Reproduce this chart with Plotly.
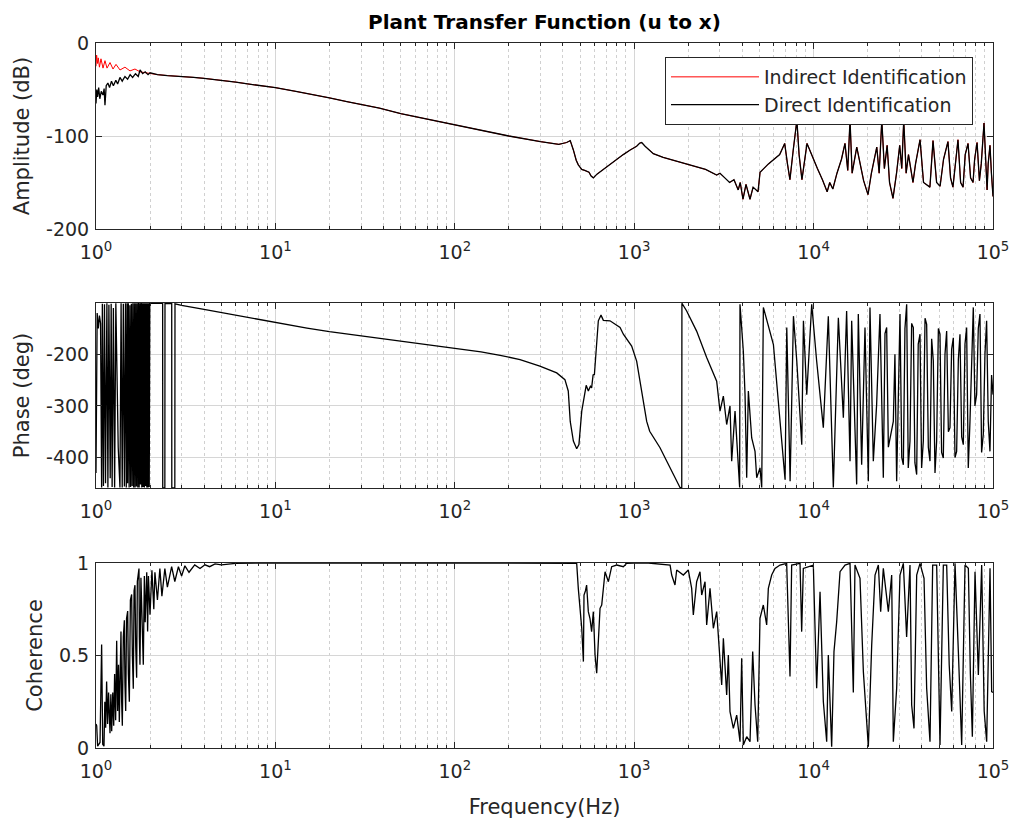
import plotly.graph_objects as go

# ---------------- data ----------------
amp_freq = [1.0, 1.01, 1.02, 1.035, 1.05, 1.07, 1.094, 1.11, 1.122, 1.14, 1.165, 1.19, 1.22, 1.25, 1.29,
            1.32, 1.36, 1.40, 1.45, 1.50, 1.55, 1.60, 1.66, 1.72, 1.76, 1.82, 1.88, 1.95, 2.0, 2.2,
            2.5, 2.8, 3.0, 3.5, 4, 5, 6, 7, 8, 10, 13, 16, 20, 25, 30, 38, 50, 70, 100, 140, 200,
            300, 380, 420, 440, 458, 475, 488, 510, 530, 543, 560, 575, 592, 620, 660, 703, 780,
            869, 950, 1032, 1075, 1101, 1150, 1278, 1450, 1653, 1900, 2229, 2500, 2882, 3007, 3200,
            3400, 3600, 3800, 3900, 4040, 4200, 4420, 4600, 4900, 5030, 5600, 6470, 6900, 7150,
            7380, 7700, 8070, 8300, 8610, 9190, 9800, 10500, 11200, 11900, 12300, 12800, 13500,
            14300, 14960, 15500, 15960, 16400, 17400, 18200, 19000, 20100, 21000, 22500, 23200,
            24000, 24800, 25700, 26500, 27700, 29000, 30200, 31000, 31800, 32800, 33800, 35800,
            37000, 39200, 41000, 44500, 46300, 48500, 50700, 53000, 56100, 58000, 59800, 63800,
            66000, 68100, 70000, 72600, 75000, 77400, 79000, 81500, 84000, 86000, 89100, 92700,
            94000, 96200, 98000, 100000]
amp_direct_db = [-65, -50, -58, -48, -60, -52, -56, -49, -67, -46, -43, -48, -41, -46, -40,
                 -44, -37, -41, -36, -39, -34, -37, -33, -36, -29, -33, -31, -34, -32, -34,
                 -35, -35.5, -36, -37, -38, -40, -42, -44, -45.5, -48, -52, -55, -59, -63, -66, -70, -76, -82, -88, -94, -100,
                 -106, -109, -107, -105, -115, -126, -131, -136, -137, -138, -139, -143, -145, -141, -137, -133, -126,
                 -120, -115, -111, -107.5, -107, -111, -119, -123, -126, -129, -133, -136, -142, -140, -145,
                 -150, -147, -158, -150, -168, -152, -168, -155, -160, -139, -130, -120, -108, -130,
                 -147, -115, -83, -120, -147, -108, -122, -135, -147, -160, -150, -157, -140,
                 -125, -108, -137, -83, -140, -112, -130, -148, -163, -140, -112, -140,
                 -83, -135, -110, -150, -167, -140, -110, -135, -83, -140, -120, -150,
                 -130, -104, -150, -155, -105, -150, -154, -125, -106, -145, -155, -104,
                 -150, -155, -120, -108, -145, -150, -125, -107, -148, -130, -86, -158,
                 -130, -110, -140, -165]

amp_indirect_low_freq = [1.0, 1.008, 1.02, 1.03, 1.045, 1.066, 1.094, 1.122, 1.152, 1.197, 1.244,
                         1.293, 1.361, 1.45, 1.547, 1.649, 1.759, 1.875, 2.0]
amp_indirect_low_db = [-25, -13, -22, -16, -26, -17, -27, -19, -27, -21, -28,
                       -23, -29, -26, -30, -28, -31, -32, -33]

phase_freq = [1.0, 1.015, 1.03, 1.045, 1.06, 1.075, 1.085, 1.10, 1.115, 1.13, 1.15, 1.165, 1.18, 1.20,
              1.215, 1.23, 1.25, 1.27, 1.29, 1.33, 1.36, 1.38, 1.40, 1.42, 1.44, 1.46, 1.475, 1.49,
              1.50, 1.515, 1.53, 1.545, 1.56, 1.575, 1.59, 1.605, 1.62, 1.635, 1.65, 1.665, 1.68,
              1.695, 1.71, 1.725, 1.74, 1.755, 1.77, 1.785, 1.80, 1.815, 1.83, 1.845, 1.86, 1.875,
              1.89, 1.905, 1.92, 1.935, 1.95, 1.965, 1.98, 1.995, 2.1, 2.3, 2.352, 2.355, 2.42, 2.424,
              2.6, 2.643, 2.646, 2.75, 2.756, 3.0, 4, 5, 7, 10, 15, 20, 30, 50, 70, 100, 140, 179,
              231, 298, 370, 411, 429, 440, 458, 478, 492, 510, 532, 540, 555, 570, 579, 590, 600,
              618, 631, 653, 673, 733, 782, 834, 870, 968, 1032, 1101, 1174, 1220, 1393, 1800, 1841,
              1845, 1961, 2228, 2535, 2882, 3008, 3140, 3277, 3420, 3494, 3648, 3806, 3870, 3888,
              4058, 4148, 4236, 4328, 4518, 4715, 4818, 5027, 5137, 5248, 5970, 6935, 7087, 7396,
              7720, 8057, 8590, 8776, 9160, 9760, 10400, 11330, 12080, 12880, 13740, 14650, 15280,
              15960, 16300, 17380, 17750, 18530, 19340, 20190, 20620, 21520, 22460, 23440, 24470,
              25000, 25540, 26100, 26660, 27820, 28400, 29040, 30310, 31000, 31640, 32300, 33020,
              33700, 34460, 35200, 35970, 36700, 37540, 38300, 39180, 40000, 40890, 41800, 42680,
              43600, 44550, 45500, 46490, 47500, 48520, 49600, 50640, 51700, 52850, 54000, 55160,
              56400, 57570, 58800, 60090, 61400, 62710, 64100, 65450, 66900, 68310, 69800, 71290,
              72800, 74410, 76000, 77660, 79300, 81050, 82800, 84590, 86400, 88280, 90200, 92140,
              94100, 96170, 98200, 100000]
phase_deg = [-430, -120, -150, -125, -140, -458, -102, -455, -103, -450, -101, -458, -104, -440,
             -102, -457, -110, -458, -101, -380, -458, -101, -458, -102, -456, -101, -458, -101,
             -450, -101, -458, -105, -457, -102, -455, -101, -458, -101, -458, -101, -456,
             -101, -458, -100.5, -458, -101, -452, -100.5, -458, -101, -457, -101, -458, -101,
             -455, -101, -458, -101, -458, -101, -457, -101, -101, -101, -101, -459, -459, -101,
             -101, -101.5, -459, -459, -102, -105, -113, -119, -129, -139, -149, -156, -164, -174, -181, -188, -195, -202,
             -210, -223, -236, -249, -271, -330, -368, -383, -375, -310, -278, -260, -271, -262, -265, -240, -239,
             -181, -135, -124, -134, -135, -142, -148, -161, -184, -213, -271, -330, -349, -381, -458, -459,
             -101, -116, -155, -206, -252, -310, -281, -336, -300, -407, -310, -420, -458, -103,
             -194, -278, -439, -271, -362, -388, -439, -420, -458, -109, -181, -443, -148, -446,
             -126, -213, -375, -135, -278, -103, -213, -342, -126, -458, -129, -323, -116,
             -407, -135, -452, -122, -414, -148, -446, -109, -407, -297, -122, -439,
             -160, -148, -380, -362, -330, -200, -446, -122, -400, -414, -150, -103,
             -420, -368, -140, -148, -410, -433, -180, -161, -420, -368, -130, -142,
             -380, -407, -170, -213, -430, -368, -150, -161, -390, -401, -200, -155,
             -350, -342, -190, -168, -400, -388, -210, -161, -360, -375, -180, -148,
             -420, -330, -220, -109, -300, -278, -150, -122, -390, -355, -200, -135,
             -330, -388, -240, -278]

coh_freq = [1.0, 1.009, 1.021, 1.04, 1.053, 1.075, 1.09, 1.108, 1.12, 1.132, 1.146, 1.161, 1.175, 1.197,
            1.21, 1.223, 1.24, 1.255, 1.27, 1.287, 1.304, 1.32, 1.335, 1.349, 1.365, 1.378, 1.39, 1.402,
            1.42, 1.439, 1.45, 1.464, 1.48, 1.502, 1.515, 1.534, 1.555, 1.580, 1.595, 1.614, 1.63, 1.649,
            1.665, 1.685, 1.70, 1.736, 1.745, 1.758, 1.78, 1.80, 1.835, 1.86, 1.88, 1.918, 1.94, 1.96,
            2.0, 2.05, 2.1, 2.13, 2.2, 2.27, 2.33, 2.42, 2.5, 2.64, 2.75, 2.88, 3.0, 3.13, 3.3, 3.55,
            3.8, 4.05, 4.3, 4.61, 5.0, 6, 10, 100, 470, 478, 488, 500, 510, 521, 525, 535, 543, 555,
            567, 579, 592, 605, 618, 631, 645, 659, 673, 688, 718, 749, 799, 870, 908, 989, 1200, 1585,
            1618, 1688, 1725, 1879, 2003, 2091, 2136, 2229, 2327, 2378, 2482, 2535, 2646, 2762, 2883,
            3009, 3074, 3141, 3277, 3348, 3420, 3570, 3727, 3889, 3973, 4059, 4237, 4422, 4576, 4716,
            4880, 5025, 5245, 5476, 5594, 5839, 6094, 6497, 7078, 7387, 7546, 8400, 8581, 8765, 9966,
            10400, 10860, 11330, 11830, 12080, 12610, 12990, 13450, 14040, 14970, 15960, 16650, 17010,
            18140, 18940, 20190, 21080, 22000, 22960, 23650, 24470, 26100, 27240, 27820, 29040, 30310,
            31640, 33000, 34460, 35210, 36280, 37550, 39190, 41260, 42680, 44550, 46100, 48530, 50650,
            52870, 55180, 57000, 58860, 61420, 64110, 66910, 69820, 72880, 74800, 76720, 79380, 82850,
            86480, 89300, 92200, 96250, 98300, 100000]
coh_val = [0.13, 0.12, 0.01, 0.02, 0.03, 0.56, 0.02, 0.01, 0.25, 0.11, 0.36, 0.13, 0.30, 0.08,
           0.29, 0.09, 0.30, 0.12, 0.40, 0.15, 0.58, 0.20, 0.45, 0.14, 0.55, 0.63, 0.25, 0.12,
           0.60, 0.69, 0.35, 0.20, 0.70, 0.74, 0.40, 0.25, 0.80, 0.83, 0.50, 0.32, 0.85, 0.88,
           0.55, 0.38, 0.90, 0.97, 0.60, 0.45, 0.92, 0.70, 0.45, 0.93, 0.68, 0.95, 0.63, 0.93,
           0.72, 0.96, 0.75, 0.95, 0.80, 0.97, 0.82, 0.97, 0.87, 0.98, 0.90, 0.98, 0.93, 0.985, 0.95, 0.99,
           0.97, 0.99, 0.98, 0.995, 0.99, 0.998, 1.0, 1.0, 1.0, 0.998, 0.863, 0.75, 0.647, 0.467, 0.827, 0.85, 0.881, 0.737,
           0.70, 0.629, 0.737, 0.503, 0.404, 0.575, 0.755, 0.773, 0.881, 0.953, 0.899, 0.980, 0.989, 0.980, 0.998, 1.0, 1.0, 0.989,
           0.935, 0.881, 0.962, 0.935, 0.962, 0.863, 0.719, 0.899, 0.953, 0.827, 0.899, 0.665, 0.863, 0.647, 0.737,
           0.503, 0.341, 0.593, 0.287, 0.503, 0.197, 0.106, 0.178, 0.034, 0.485, 0.016, 0.061, 0.034, 0.521, 0.232,
           0.034, 0.701, 0.773, 0.665, 0.863, 0.935, 0.971, 0.989, 0.998, 0.386, 0.989, 0.998, 0.629, 0.971, 0.989,
           0.323, 0.845, 0.251, 0.034, 0.503, 0.007, 0.521, 0.683, 0.953, 0.989, 0.998, 0.30, 0.989,
           0.917, 0.413, 0.007, 0.557, 0.935, 0.989, 0.737, 0.971, 0.737, 0.935, 0.034, 0.323, 0.935,
           0.998, 0.60, 0.989, 0.232, 0.106, 0.935, 0.998, 0.917, 0.323, 0.034, 0.989, 0.989, 0.016,
           0.989, 0.989, 0.45, 0.197, 0.998, 0.521, 0.016, 0.989, 0.971, 0.40, 0.061, 0.953, 0.395,
           0.989, 0.20, 0.034, 0.971, 0.305, 0.30]

x_tick_vals = [1, 10, 100, 1000, 10000, 100000]
x_tick_text = ["10<sup>0</sup>", "10<sup>1</sup>", "10<sup>2</sup>", "10<sup>3</sup>",
               "10<sup>4</sup>", "10<sup>5</sup>"]
x_minor_vals = [m * 10 ** k for k in range(5) for m in range(2, 10)]

amp_tick_vals = [0, -100, -200]
amp_tick_text = ["0", "-100", "-200"]
phase_tick_vals = [-200, -300, -400]
phase_tick_text = ["-200", "-300", "-400"]
coh_tick_vals = [0, 0.5, 1]
coh_tick_text = ["0", "0.5", "1"]

# indirect (red) trace coincides with the direct one above ~2 Hz
amp_indirect_freq = amp_indirect_low_freq + [f for f in amp_freq if f > 2.0]
amp_indirect_db = amp_indirect_low_db + [d for f, d in zip(amp_freq, amp_direct_db) if f > 2.0]

# ---------------- figure ----------------
RED = "#ff0000"
BLACK = "#000000"
AXC = "#262626"
FONT = "DejaVu Sans"
LW = 1.3

fig = go.Figure()
fig.add_trace(go.Scatter(x=amp_indirect_freq, y=amp_indirect_db, mode="lines",
                         line=dict(color=RED, width=1.0), name="Indirect Identification",
                         xaxis="x", yaxis="y"))
fig.add_trace(go.Scatter(x=amp_freq, y=amp_direct_db, mode="lines",
                         line=dict(color=BLACK, width=LW), name="Direct Identification",
                         xaxis="x", yaxis="y"))
fig.add_trace(go.Scatter(x=phase_freq, y=phase_deg, mode="lines", showlegend=False,
                         line=dict(color=BLACK, width=LW), xaxis="x2", yaxis="y2"))
fig.add_trace(go.Scatter(x=coh_freq, y=coh_val, mode="lines", showlegend=False,
                         line=dict(color=BLACK, width=LW), xaxis="x3", yaxis="y3"))

W, H = 1013, 827
L, R, T, B = 96, 993, 43, 748          # plot region in pixels
PH = B - T


def ydom(top, bottom):
    return [(B - bottom) / PH, (B - top) / PH]


def xaxis_style(anchor, title=None):
    d = dict(type="log", range=[0, 5], domain=[0, 1], anchor=anchor, automargin=False,
             tickmode="array", tickvals=x_tick_vals, ticktext=x_tick_text,
             ticks="inside", ticklen=6, tickcolor=AXC, tickwidth=1,
             showline=True, linecolor=AXC, linewidth=1, mirror="allticks",
             showgrid=True, gridcolor="#d6d6d6", gridwidth=1,
             zeroline=False, ticklabelstandoff=6,
             tickfont=dict(family=FONT, size=19, color=AXC),
             minor=dict(tickmode="array", tickvals=x_minor_vals, ticks="inside", ticklen=3,
                        tickcolor=AXC, showgrid=True, gridcolor="#d0d0d0",
                        griddash="3px,3px", gridwidth=1))
    if title:
        d["title"] = dict(text=title, font=dict(family=FONT, size=21, color=AXC), standoff=18)
    return d


def yaxis_style(anchor, rng, dom, tv, tt, title):
    return dict(range=rng, domain=dom, anchor=anchor, automargin=False,
                tickmode="array", tickvals=tv, ticktext=tt,
                ticks="inside", ticklen=6, tickcolor=AXC, tickwidth=1,
                showline=True, linecolor=AXC, linewidth=1, mirror="allticks",
                showgrid=True, gridcolor="#d6d6d6", gridwidth=1, zeroline=False,
                ticklabelstandoff=2,
                tickfont=dict(family=FONT, size=19, color=AXC),
                title=dict(text=title, font=dict(family=FONT, size=21, color=AXC), standoff=10))


fig.update_layout(
    width=W, height=H,
    margin=dict(l=L, r=W - R, t=T, b=H - B, autoexpand=False),
    paper_bgcolor="white", plot_bgcolor="white",
    xaxis=xaxis_style("y"),
    yaxis=yaxis_style("x", [-200, 0], ydom(43, 229), amp_tick_vals, amp_tick_text, "Amplitude (dB)"),
    xaxis2=xaxis_style("y2"),
    yaxis2=yaxis_style("x2", [-459, -100.5], ydom(303, 488), phase_tick_vals, phase_tick_text, "Phase (deg)"),
    xaxis3=xaxis_style("y3", "Frequency(Hz)"),
    yaxis3=yaxis_style("x3", [0, 1], ydom(563, 748), coh_tick_vals, coh_tick_text, "Coherence"),
    title=dict(text="<b>Plant Transfer Function (u to x)</b>", xref="paper", x=0.5, xanchor="center",
               yref="container", y=1 - 22 / H, yanchor="middle",
               font=dict(family=FONT, size=20, color="#000000")),
    legend=dict(x=(973 - L) / (R - L), xanchor="right", y=(B - 57) / PH, yanchor="top",
                bgcolor="white", bordercolor=AXC, borderwidth=1,
                font=dict(family=FONT, size=19, color=AXC), itemwidth=88,
                tracegroupgap=0),
    showlegend=True,
)

fig.write_html("out.html")
